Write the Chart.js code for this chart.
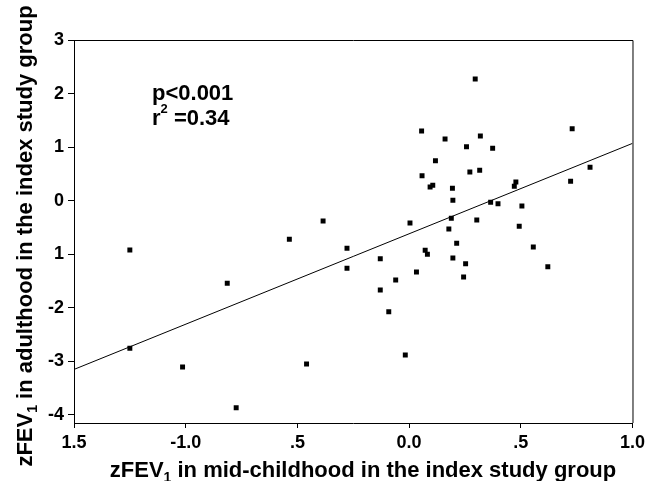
<!DOCTYPE html>
<html>
<head>
<meta charset="utf-8">
<script src="https://cdn.jsdelivr.net/npm/chart.js@4"></script>
<style>
  body { margin: 0; background: #fff; }
</style>
</head>
<body>
<canvas id="chart" width="649" height="481"></canvas>
<script>
// zFEV1 mid-childhood (x) vs adulthood (y)
const xValues = [
  0.296, 0.056, 0.161, 0.319, 0.257, 0.374, 0.730, 0.118, 0.058, 0.272,
  0.316, 0.094, 0.106, 0.194, 0.196, 0.471, 0.478, 0.810, 0.723, 0.365,
  0.398, 0.505, -0.385, 0.004, 0.189, 0.303, 0.178, 0.493, -0.278, 0.213,
  0.072, 0.082, 0.556, -0.129, 0.196, -0.278, 0.253, 0.033, 0.621, -0.060,
  0.244, -0.129, -0.091, -0.017, -1.250, -0.814, -0.536, -1.250, -1.014, -0.459,
  -0.774,
];
const yValues = [
  2.272, 1.301, 1.152, 1.208, 1.008, 0.978, 1.344, 0.747, 0.467, 0.536,
  0.568, 0.256, 0.288, 0.232, 0.008, 0.269, 0.349, 0.624, 0.362, -0.030,
  -0.056, -0.099, -0.379, -0.416, -0.328, -0.360, -0.528, -0.478, -0.888, -0.795,
  -0.926, -1.000, -0.864, -1.083, -1.069, -1.262, -1.176, -1.331, -1.232, -1.480,
  -1.424, -1.667, -2.072, -2.880, -0.920, -1.542, -0.720, -2.755, -3.104, -3.048,
  -3.864,
];

// regression line end points
const fitX = [-1.5, 1.0];
const fitY = [-3.15, 1.07];

// tick labels as printed in the figure
const xTickValues = [-1.5, -1.0, -0.5, 0, 0.5, 1.0];
const xTickLabels = ["1.5", "-1.0", ".5", "0.0", ".5", "1.0"];
const yTickValues = [3, 2, 1, 0, -1, -2, -3, -4];
const yTickLabels = ["3", "2", "1", "0", "1", "-2", "-3", "-4"];

const FONT = "'Liberation Sans', Arial, sans-serif";

// draw "zFEV" + subscript 1 + rest of the label
function drawSubLabel(ctx, rest, size, x, y, align) {
  const parts = [
    { text: "zFEV", size: size, dy: 0 },
    { text: "1", size: Math.round(size * 0.62), dy: size * 0.22 },
    { text: rest, size: size, dy: 0 },
  ];
  let total = 0;
  parts.forEach((p) => {
    ctx.font = "bold " + p.size + "px " + FONT;
    p.w = ctx.measureText(p.text).width;
    total += p.w;
  });
  let cx = align === "center" ? x - total / 2 : x;
  parts.forEach((p) => {
    ctx.font = "bold " + p.size + "px " + FONT;
    ctx.fillText(p.text, cx, y + p.dy);
    cx += p.w;
  });
}

const extras = {
  id: "extras",
  afterDraw(chart) {
    const ctx = chart.ctx;
    const a = chart.chartArea;
    ctx.save();
    // box around plot
    ctx.strokeStyle = "#000";
    ctx.lineWidth = 1;
    ctx.beginPath();
    ctx.moveTo(a.left, a.top + 0.5);
    ctx.lineTo(a.right + 0.5, a.top + 0.5);
    ctx.lineTo(a.right + 0.5, a.bottom);
    ctx.stroke();

    ctx.fillStyle = "#000";
    ctx.textAlign = "left";
    ctx.textBaseline = "alphabetic";

    // stats text
    ctx.font = "bold 22px " + FONT;
    ctx.fillText("p<0.001", 152, 100);
    ctx.fillText("r", 152, 125);
    const rw = ctx.measureText("r").width;
    ctx.font = "bold 13px " + FONT;
    ctx.fillText("2", 152 + rw, 113);
    const sw = ctx.measureText("2").width;
    ctx.font = "bold 22px " + FONT;
    ctx.fillText(" =0.34", 152 + rw + sw, 125);

    // axis titles
    drawSubLabel(ctx, " in mid-childhood in the index study group", 22, 363, 477, "center");
    ctx.translate(32, 236);
    ctx.rotate(-Math.PI / 2);
    drawSubLabel(ctx, " in adulthood in the index study group", 22, 0, 0, "center");
    ctx.restore();
  },
};

new Chart(document.getElementById("chart"), {
  type: "scatter",
  data: {
    datasets: [
      {
        label: "Subjects",
        data: xValues.map((x, i) => ({ x: x, y: yValues[i] })),
        pointStyle: "rect",
        pointRadius: 3.5,
        backgroundColor: "#000",
        borderColor: "#000",
        borderWidth: 0,
      },
      {
        label: "Fit",
        type: "line",
        data: fitX.map((x, i) => ({ x: x, y: fitY[i] })),
        borderColor: "#000",
        borderWidth: 1,
        pointRadius: 0,
        fill: false,
      },
    ],
  },
  options: {
    responsive: false,
    animation: false,
    layout: { padding: { top: 40, right: 13, left: 0, bottom: 0 } },
    plugins: {
      legend: { display: false },
      tooltip: { enabled: false },
    },
    scales: {
      x: {
        type: "linear",
        min: -1.5,
        max: 1.0,
        afterFit: (scale) => { scale.height = 58; },
        afterBuildTicks: (scale) => {
          scale.ticks = xTickValues.map((v) => ({ value: v }));
        },
        ticks: {
          color: "#000",
          padding: 4,
          maxRotation: 0,
          font: { family: FONT, size: 18, weight: "bold" },
          callback: (value) => xTickLabels[xTickValues.indexOf(value)],
        },
        grid: { drawOnChartArea: false, color: "#000", tickLength: 5 },
        border: { color: "#000", width: 1 },
      },
      y: {
        type: "linear",
        min: -4.15,
        max: 3,
        afterFit: (scale) => { scale.width = 74; },
        afterBuildTicks: (scale) => {
          scale.ticks = yTickValues.map((v) => ({ value: v }));
        },
        ticks: {
          color: "#000",
          padding: 4,
          font: { family: FONT, size: 18, weight: "bold" },
          callback: (value) => yTickLabels[yTickValues.indexOf(value)],
        },
        grid: { drawOnChartArea: false, color: "#000", tickLength: 6 },
        border: { color: "#000", width: 1 },
      },
    },
  },
  plugins: [extras],
});
</script>
</body>
</html>
